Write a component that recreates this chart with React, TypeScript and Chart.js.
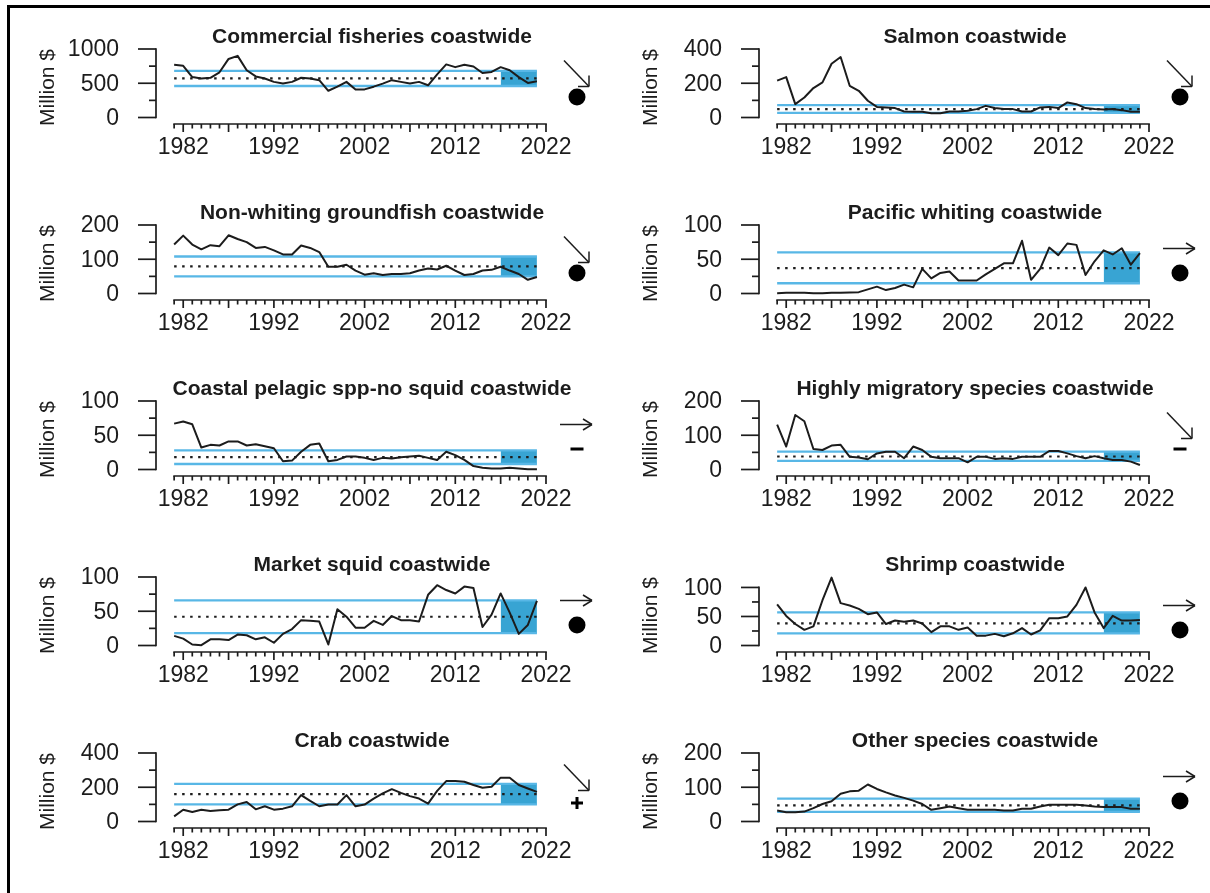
import React, { useEffect, useRef } from "react";
import { Chart, registerables } from "chart.js";

Chart.register(...registerables);

// ---------- data ----------
const YEARS = [
  1981, 1982, 1983, 1984, 1985, 1986, 1987, 1988, 1989, 1990,
  1991, 1992, 1993, 1994, 1995, 1996, 1997, 1998, 1999, 2000,
  2001, 2002, 2003, 2004, 2005, 2006, 2007, 2008, 2009, 2010,
  2011, 2012, 2013, 2014, 2015, 2016, 2017, 2018, 2019, 2020,
  2021,
];

const COMMERCIAL = [770, 755, 590, 570, 580, 660, 855, 900, 690, 600, 570, 520, 495, 520, 580, 570, 545, 390, 450, 520, 410, 410, 450, 495, 545, 520, 495, 520, 470, 630, 775, 735, 770, 745, 650, 665, 735, 690, 590, 505, 530];
const SALMON = [215, 236, 78, 117, 172, 205, 314, 353, 185, 156, 98, 62, 59, 55, 35, 33, 33, 25, 25, 35, 35, 39, 49, 68, 55, 49, 49, 35, 35, 59, 62, 55, 88, 78, 55, 49, 47, 49, 43, 33, 33];
const NON_WHITING = [143, 169, 143, 129, 141, 138, 170, 159, 150, 133, 136, 126, 114, 114, 140, 133, 121, 78, 78, 84, 67, 55, 59, 54, 57, 57, 59, 67, 73, 70, 81, 67, 54, 57, 67, 69, 78, 67, 57, 40, 48];
const PACIFIC_WHITING = [0.5, 1, 1, 1, 0.5, 0.5, 1, 1, 1.5, 2, 6, 10, 5, 8, 13, 9, 36, 22, 30, 32, 19, 19, 19, 28, 36, 44, 44, 77, 20, 36, 67, 56, 73, 71, 27, 47, 63, 57, 66, 42, 59];
const COASTAL_PELAGIC = [67, 70, 66, 32, 36, 35, 41, 41, 35, 37, 34, 31, 12, 13, 26, 36, 38, 12, 14, 19, 19, 17, 14, 17, 16, 18, 19, 20, 17, 14, 26, 21, 14, 5, 2.5, 1.5, 1.5, 2.5, 1.5, 0.5, 0.5];
const HIGHLY_MIGRATORY = [131, 67, 159, 141, 60, 57, 70, 72, 37, 35, 30, 47, 52, 52, 33, 67, 57, 37, 33, 33, 33, 21, 37, 37, 31, 33, 31, 37, 37, 37, 54, 54, 47, 39, 33, 39, 33, 28, 28, 23, 13];
const MARKET_SQUID = [14, 10, 1.5, 0.5, 9, 9, 8, 16, 15, 9, 12, 4, 17, 24, 37, 36, 35, 1.5, 53, 42, 26, 26, 36, 30, 43, 37, 37, 35, 74, 88, 81, 76, 86, 84, 27, 45, 76, 48, 17, 30, 65];
const SHRIMP = [71, 51, 37, 27, 33, 78, 117, 73, 69, 63, 54, 57, 37, 43, 41, 43, 38, 23, 33, 33, 27, 31, 17, 17, 20, 16, 21, 30, 19, 26, 47, 47, 50, 70, 100, 57, 30, 51, 43, 43, 44];
const CRAB = [30, 69, 55, 69, 61, 65, 69, 100, 114, 71, 89, 69, 75, 89, 154, 120, 89, 99, 99, 154, 89, 99, 134, 164, 189, 167, 148, 134, 104, 179, 236, 236, 232, 213, 197, 203, 256, 256, 213, 193, 173];
const OTHER_SPECIES = [32, 27, 27, 29, 39, 51, 59, 81, 88, 90, 108, 95, 85, 76, 69, 61, 51, 34, 39, 44, 39, 34, 34, 34, 34, 32, 32, 37, 37, 44, 49, 49, 49, 49, 47, 44, 42, 42, 42, 37, 37];

const TITLES = [
  "Commercial fisheries coastwide",
  "Salmon coastwide",
  "Non-whiting groundfish coastwide",
  "Pacific whiting coastwide",
  "Coastal pelagic spp-no squid coastwide",
  "Highly migratory species coastwide",
  "Market squid coastwide",
  "Shrimp coastwide",
  "Crab coastwide",
  "Other species coastwide",
];
const SERIES = [COMMERCIAL, SALMON, NON_WHITING, PACIFIC_WHITING, COASTAL_PELAGIC, HIGHLY_MIGRATORY, MARKET_SQUID, SHRIMP, CRAB, OTHER_SPECIES];

const BAND_UPPER = [680, 72, 108, 60, 28, 52, 66, 57, 220, 67];
const BAND_MEAN = [570, 49, 79, 37, 18, 38, 42, 38, 160, 47];
const BAND_LOWER = [460, 27, 50, 15, 8, 25, 18, 21, 100, 28];

const AXIS_TOP = [1000, 400, 200, 100, 100, 200, 100, 100, 400, 200];
const Y_LIMIT = [1000, 400, 200, 100, 100, 200, 100, 118, 400, 200];

const TREND = ["down", "down", "down", "flat", "flat", "down", "flat", "flat", "down", "flat"];
const STATUS = ["dot", "dot", "dot", "dot", "dash", "dash", "dot", "dot", "plus", "dot"];

const X_TICK_LABELS = [1982, 1992, 2002, 2012, 2022];
const AXIS_FIRST_YEAR = 1981;
const AXIS_LAST_YEAR = 2022;
const RECENT_START = 2017;
const RECENT_END = 2021;
const Y_AXIS_TITLE = "Million $";

// ---------- layout / style ----------
const PANEL_W = 605;
const PANEL_H = 176;
const COL_OFFSET = 603;
const PLOT_PX = 68.5; // pixels between 0 and Y_LIMIT
const SYMBOL_SHIFT = [0, 0, 0, 0, 0, 0, 0, 5, 0, 0];
const LINE_BLUE = "#58B7E6";
const BOX_BLUE = "#38A4D3";
const INK = "#1c1c1c";
const FONT = "'Liberation Sans', Arial, Helvetica, sans-serif";

const rDecor = {
  id: "rDecor",
  afterDatasetsDraw(chart: any, _args: any, opts: any) {
    const idx: number = opts.idx;
    const { ctx, chartArea } = chart;
    const xs = chart.scales.x;
    const ys = chart.scales.y;
    const top = AXIS_TOP[idx];
    const zero = ys.getPixelForValue(0);
    ctx.save();
    ctx.strokeStyle = INK;
    ctx.fillStyle = INK;
    ctx.lineWidth = 1.7;
    ctx.lineCap = "butt";
    const seg = (x1: number, y1: number, x2: number, y2: number) => {
      ctx.beginPath();
      ctx.moveTo(x1, y1);
      ctx.lineTo(x2, y2);
      ctx.stroke();
    };
    // y axis
    const ax = chartArea.left;
    seg(ax, zero + 0.85, ax, ys.getPixelForValue(top) - 0.85);
    ctx.font = `23px ${FONT}`;
    ctx.textAlign = "right";
    ctx.textBaseline = "middle";
    for (let k = 0; k <= 4; k++) {
      const v = (top * k) / 4;
      const py = ys.getPixelForValue(v);
      const len = k % 2 === 0 ? 18 : 7;
      seg(ax - len, py, ax, py);
      if (k % 2 === 0) ctx.fillText(String(v), ax - 37, py + 1);
    }
    // x axis
    const by = chartArea.bottom;
    seg(xs.getPixelForValue(AXIS_FIRST_YEAR) - 0.85, by, xs.getPixelForValue(AXIS_LAST_YEAR) + 0.85, by);
    for (let yr = AXIS_FIRST_YEAR; yr <= AXIS_LAST_YEAR; yr++) {
      const px = xs.getPixelForValue(yr);
      const len = (yr - X_TICK_LABELS[0]) % 5 === 0 ? 8 : 4.5;
      seg(px, by, px, by + len);
    }
    ctx.textAlign = "center";
    for (const lab of X_TICK_LABELS) {
      ctx.fillText(String(lab), xs.getPixelForValue(lab), by + 24);
    }
    // title
    ctx.font = `bold 21px ${FONT}`;
    ctx.fillText(TITLES[idx], 372, zero - 80);
    // y title
    ctx.save();
    ctx.translate(48, zero - 30);
    ctx.rotate(-Math.PI / 2);
    ctx.font = `21px ${FONT}`;
    ctx.fillText(Y_AXIS_TITLE, 0, 0);
    ctx.restore();
    // trend symbol
    const sx = 577;
    const sh = SYMBOL_SHIFT[idx];
    ctx.lineWidth = 1.5;
    if (TREND[idx] === "down") {
      const tx = 589, ty = zero - 31 + sh;
      seg(564, zero - 57 + sh, tx, ty);
      seg(tx, ty, tx, ty - 11);
      seg(tx, ty, tx - 11, ty);
    } else {
      const ty = zero - 45 + sh;
      seg(560, ty, 592, ty);
      seg(592, ty, 583, ty - 5.5);
      seg(592, ty, 583, ty + 5.5);
    }
    // status symbol
    const cy = zero - 20.5 + sh;
    ctx.fillStyle = "#000";
    if (STATUS[idx] === "dot") {
      ctx.beginPath();
      ctx.arc(sx, cy, 8.5, 0, Math.PI * 2);
      ctx.fill();
    } else if (STATUS[idx] === "dash") {
      ctx.fillRect(sx - 6.5, cy - 1.5, 13, 3);
    } else {
      ctx.fillRect(sx - 6, cy + 2 - 1.5, 12, 3);
      ctx.fillRect(sx - 1.5, cy + 2 - 6, 3, 12);
    }
    ctx.restore();
  },
};

function Panel({ idx }: { idx: number }) {
  const ref = useRef<HTMLCanvasElement | null>(null);
  useEffect(() => {
    const canvas = ref.current;
    if (!canvas) return;
    const lim = Y_LIMIT[idx];
    const ppu = PLOT_PX / lim;
    const values = SERIES[idx];
    const up = BAND_UPPER[idx];
    const mean = BAND_MEAN[idx];
    const lo = BAND_LOWER[idx];
    const first = YEARS[0];
    const last = YEARS[YEARS.length - 1];
    const chart = new Chart(canvas, {
      type: "line",
      data: {
        datasets: [
          {
            data: [{ x: RECENT_START, y: up }, { x: RECENT_END, y: up }],
            borderWidth: 0,
            borderColor: "rgba(0,0,0,0)",
            backgroundColor: BOX_BLUE,
            fill: 1,
            order: 5,
          },
          {
            data: [{ x: RECENT_START, y: lo }, { x: RECENT_END, y: lo }],
            borderWidth: 0,
            borderColor: "rgba(0,0,0,0)",
            fill: false,
            order: 6,
          },
          {
            data: [{ x: first, y: up }, { x: last, y: up }],
            borderColor: LINE_BLUE,
            borderWidth: 2.3,
            fill: false,
            order: 3,
          },
          {
            data: [{ x: first, y: lo }, { x: last, y: lo }],
            borderColor: LINE_BLUE,
            borderWidth: 2.3,
            fill: false,
            order: 4,
          },
          {
            data: [{ x: first, y: mean }, { x: last, y: mean }],
            borderColor: INK,
            borderWidth: 2.2,
            borderDash: [2.5, 5.5],
            fill: false,
            order: 2,
          },
          {
            data: YEARS.map((yr, i) => ({ x: yr, y: values[i] })),
            borderColor: INK,
            borderWidth: 2,
            borderJoinStyle: "round",
            fill: false,
            order: 1,
          },
        ] as any,
      },
      options: {
        animation: false,
        responsive: false,
        maintainAspectRatio: false,
        layout: { padding: { left: 156, right: 45.4, top: 45, bottom: 52 } },
        elements: { point: { radius: 0, hoverRadius: 0 }, line: { tension: 0 } },
        scales: {
          x: { type: "linear", display: false, min: 1979, max: 2023.5 },
          y: { type: "linear", display: false, min: -6.5 / ppu, max: lim + 4 / ppu },
        },
        plugins: {
          legend: { display: false },
          tooltip: { enabled: false },
          title: { display: false },
          rDecor: { idx },
        } as any,
        events: [],
      },
      plugins: [rDecor as any],
    });
    return () => chart.destroy();
  }, [idx]);
  const col = idx % 2;
  const row = Math.floor(idx / 2);
  return (
    <canvas
      ref={ref}
      width={PANEL_W}
      height={PANEL_H}
      style={{ position: "absolute", left: col * COL_OFFSET, top: row * PANEL_H, width: PANEL_W, height: PANEL_H }}
    />
  );
}

export default function App() {
  return (
    <div style={{ position: "fixed", left: 0, top: 0, width: 1210, height: 893, background: "#fff", overflow: "hidden" }}>
      <div
        style={{
          position: "absolute",
          left: 7,
          top: 5,
          width: 1300,
          height: 1000,
          borderLeft: "3px solid #000",
          borderTop: "3px solid #000",
        }}
      />
      {TITLES.map((_, i) => (
        <Panel key={i} idx={i} />
      ))}
    </div>
  );
}
